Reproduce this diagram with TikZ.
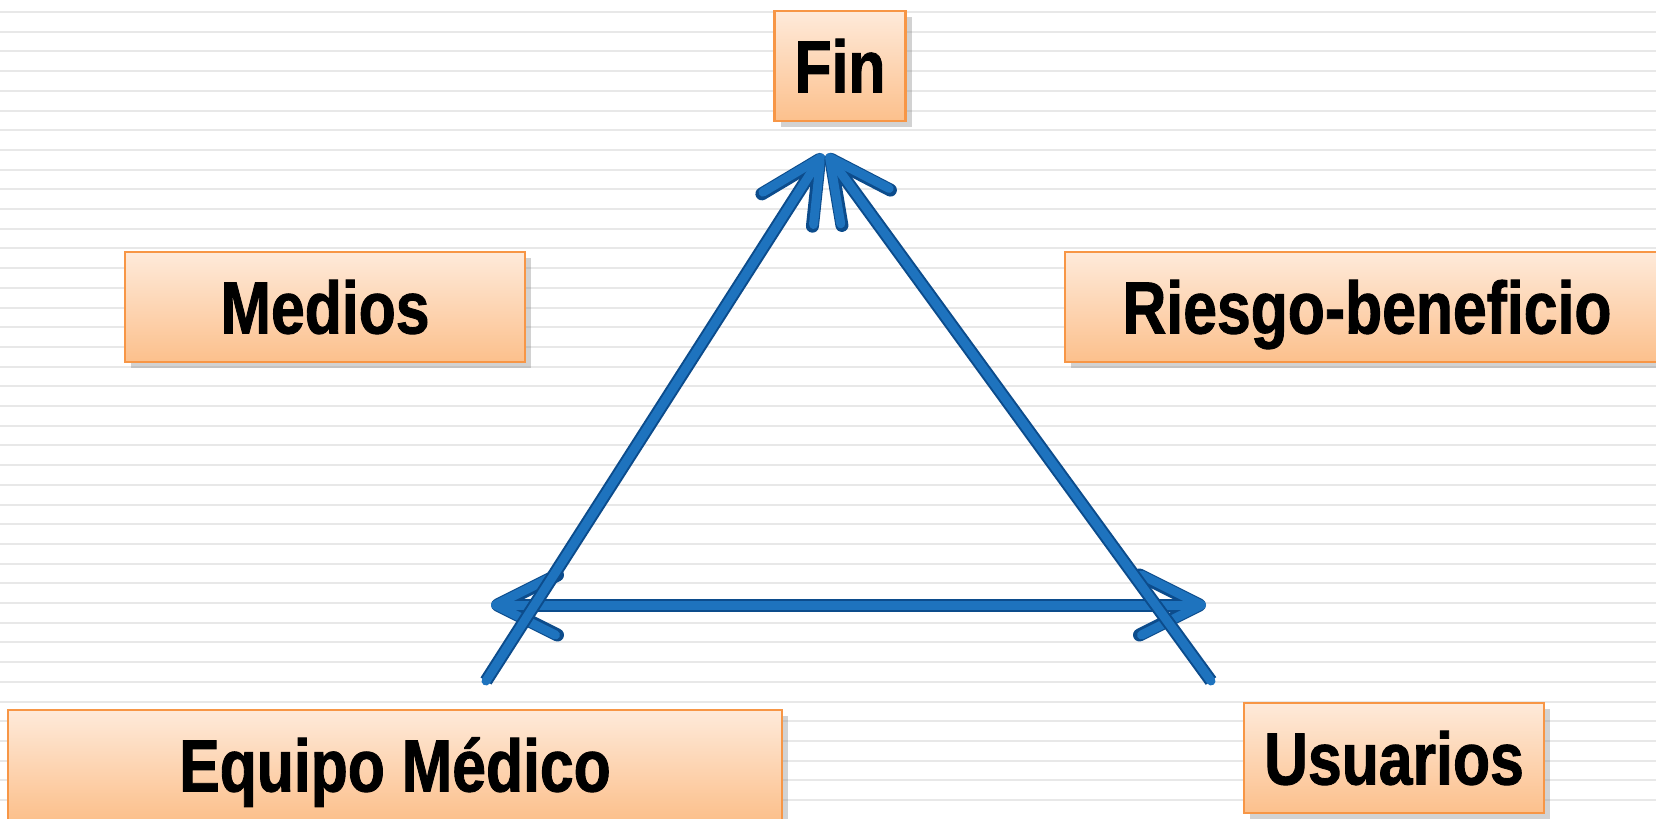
\documentclass[tikz,border=0pt]{standalone}
\usepackage{fontspec}
\newfontfamily\boxfont{Liberation Sans}[FakeStretch=0.82,FakeBold=1.2]
\usetikzlibrary{arrows.meta,shadows}
\definecolor{boxedge}{RGB}{247,150,70}
\definecolor{boxtop}{RGB}{254,234,218}
\definecolor{boxbottom}{RGB}{252,192,140}
\definecolor{tubedark}{RGB}{12,76,140}
\definecolor{tubeblue}{RGB}{30,115,190}
\definecolor{stripe}{RGB}{232,232,232}

\begin{document}
\begin{tikzpicture}[x=0.5pt,y=-0.5pt,
  box/.style={draw=boxedge,line width=1.3pt,top color=boxtop,bottom color=boxbottom,
    drop shadow={opacity=0.35,shadow xshift=3pt,shadow yshift=-3pt},
    minimum height=55pt,inner sep=0pt,text height=26.5pt,text depth=0pt,
    font=\boxfont\bfseries\fontsize{37}{40}\selectfont},
  tube/.style={line width=4.5pt,draw=tubeblue,line cap=round,
    preaction={draw=tubedark,line width=6.5pt}},
  barb/.style={-{Straight Barb[round,length=30pt,width=30pt]}},
  twobarb/.style={{Straight Barb[round,length=30pt,width=30pt]}-{Straight Barb[round,length=30pt,width=30pt]}}]
\useasboundingbox (0,0) rectangle (1656,819);
\fill[white] (0,0) rectangle (1656,819);
\foreach \k in {0,...,41}
  \draw[stripe,line width=1pt] (0,{12+19.7*\k}) -- (1656,{12+19.7*\k});
% triangle corners
\coordinate (topL) at (823,154);
\coordinate (topR) at (827,154);
\coordinate (botL) at (486,681);
\coordinate (botR) at (1211,681);
\coordinate (midL) at (491,605);
\coordinate (midR) at (1206,605);
\draw[tube,twobarb] (midL) -- (midR);
\draw[tube,barb] (botL) -- (topL);
\draw[tube,barb] (botR) -- (topR);
% boxes
\node[box,minimum width=65.5pt] (fin) at (840,66) {Fin};
\node[box,minimum width=200pt] (medios) at (325,307) {Medios};
\node[box,minimum width=302pt] (riesgo) at (1367,307) {Riesgo-beneficio};
\node[box,minimum width=387pt] (equipo) at (395,765) {Equipo Médico};
\node[box,minimum width=150pt] (usuarios) at (1394,758) {Usuarios};
\end{tikzpicture}
\end{document}
